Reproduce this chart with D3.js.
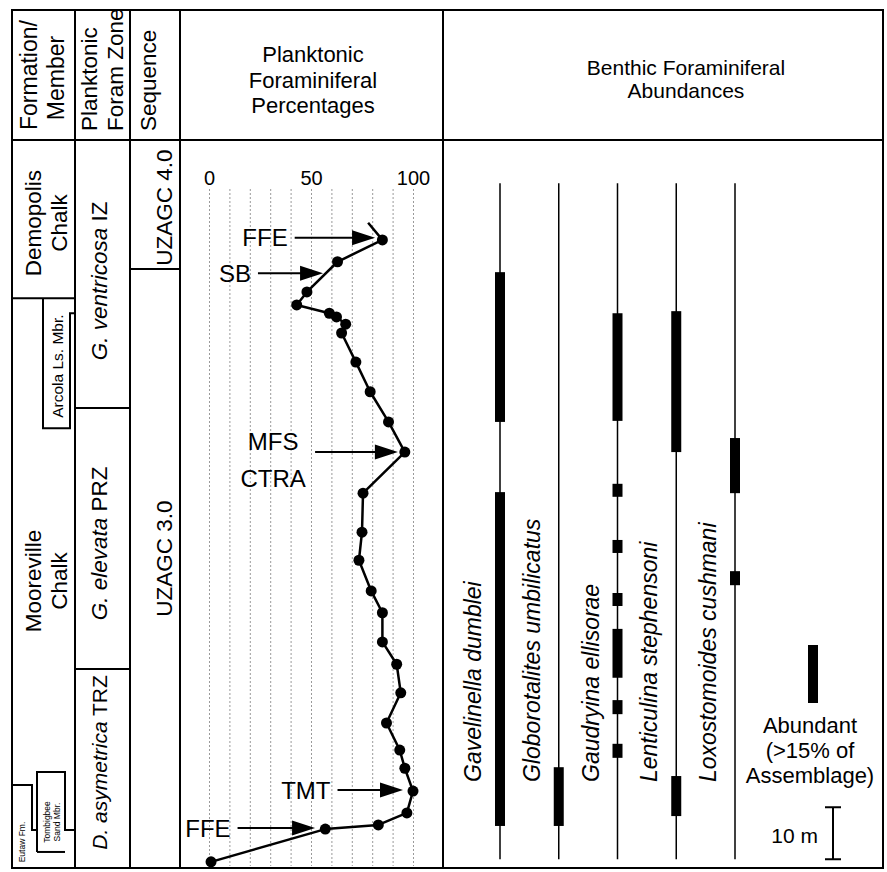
<!DOCTYPE html>
<html>
<head>
<meta charset="UTF-8">
<title>Planktonic and benthic foraminifera</title>
<script src="https://cdn.jsdelivr.net/npm/d3@7"></script>
<style>
  body { margin: 0; background: #fff; }
  text { font-family: "Liberation Sans", Arial, Helvetica, sans-serif; fill: #000; }
</style>
</head>
<body>
<script>
// stratigraphic height in metres above the base of the section
var depthM = [123.7, 120.4, 116.2, 110.4, 107.9, 106.3, 105.6, 104.2, 102.5, 96.9, 91.2, 85.4, 79.6,
              71.7, 64.2, 58.8, 52.9, 48.7, 43.1, 38.8, 33.3, 27.5, 22.3, 18.8, 14.4, 10.2, 7.9, 7.1, 0.8];
var planktonicPct = [78, 85, 63, 48, 43, 59, 62.5, 67, 65, 72, 79, 88, 96,
                     75.5, 75, 73.5, 79.5, 85, 85, 92, 94, 87, 93.5, 96, 100, 97, 83, 57, 1];
var pctTicks = [0, 50, 100];

// arrows on the planktonic curve
var annoLabels = ["FFE", "SB", "MFS", "TMT", "FFE"];
var annoSub = ["", "", "CTRA", "", ""];
var annoDepth = [120.8, 114.0, 79.6, 14.6, 7.3];
var annoFrom = [42, 24, 52, 63, 14];
var annoTo = [81.4, 55.9, 92.6, 95.1, 52];

// benthic taxa and their abundant intervals (m)
var species = ["Gavelinella dumblei", "Globorotalites umbilicatus", "Gaudryina ellisorae",
               "Lenticulina stephensoni", "Loxostomoides cushmani"];
var abundant = [
  [[85.4, 114.2], [7.7, 71.9]],
  [[7.7, 19.0]],
  [[85.6, 106.3], [71.0, 73.5], [60.2, 62.7], [50.0, 52.5], [36.2, 45.6], [29.2, 31.9], [20.8, 23.5]],
  [[79.6, 106.7], [9.6, 17.3]],
  [[71.7, 82.3], [54.0, 56.7]]
];
var rangeM = [1.3, 131.3];

// units
var formations = [["Demopolis", "Chalk"], ["Mooreville", "Chalk"]];
var formationBase = 109.2;
var arcolaRange = [84.2, 109.2], arcolaStep = 106.3;
var eutawTop = 15.6, eutawStep = 6.9, tombigbeeRange = [2.7, 18.1];
var zoneNames = ["G. ventricosa", "G. elevata", "D. asymetrica"];
var zoneTypes = ["IZ", "PRZ", "TRZ"];
var zoneBounds = [88.1, 37.9];
var sequences = ["UZAGC 4.0", "UZAGC 3.0"];
var sequenceBound = 114.8;

var W = 887, H = 872;
var L = 12, T = 10, R = 883, B = 868, headB = 140;
var cols = [L, 75, 130, 180, 443, R];

var svg = d3.select("body").append("svg")
  .attr("width", W).attr("height", H);

var y = d3.scaleLinear().domain([0, 130]).range([866, 190]);
var x = d3.scaleLinear().domain([0, 100]).range([209, 413]);

function vtext(px, py, str, size, anchor) {
  return svg.append("text")
    .attr("transform", "translate(" + px + "," + py + ") rotate(-90)")
    .attr("text-anchor", anchor || "middle")
    .style("font-size", size + "px")
    .text(str);
}

// ---- frame ----
svg.append("rect").attr("x", L).attr("y", T).attr("width", R - L).attr("height", B - T)
  .attr("fill", "none").attr("stroke", "#000").attr("stroke-width", 2);
svg.append("line").attr("x1", L).attr("x2", R).attr("y1", headB).attr("y2", headB)
  .attr("stroke", "#000").attr("stroke-width", 2);
cols.slice(1, 5).forEach(function (cx) {
  svg.append("line").attr("x1", cx).attr("x2", cx).attr("y1", T).attr("y2", B)
    .attr("stroke", "#000").attr("stroke-width", 2);
});

// ---- headers ----
vtext(37, 75, "Formation/", 23);
vtext(64, 78, "Member", 23);
vtext(97, 131, "Planktonic", 22.5, "start");
vtext(123, 131, "Foram Zone", 22.5, "start");
vtext(156, 131, "Sequence", 22.5, "start");
["Planktonic", "Foraminiferal", "Percentages"].forEach(function (s, i) {
  svg.append("text").attr("x", 313).attr("y", 62 + i * 25.5).attr("text-anchor", "middle")
    .style("font-size", "22px").text(s);
});
["Benthic Foraminiferal", "Abundances"].forEach(function (s, i) {
  svg.append("text").attr("x", 686).attr("y", 75 + i * 22.5).attr("text-anchor", "middle")
    .style("font-size", "21px").text(s);
});

var unitLine = { stroke: "#000", "stroke-width": 2, fill: "none" };
function path(d) {
  var p = svg.append("path").attr("d", d);
  for (var k in unitLine) p.attr(k, unitLine[k]);
}

// ---- formation column ----
var fb = y(formationBase);
path("M" + L + "," + fb + "H" + cols[1]);
path("M43," + y(arcolaRange[1]) + "V" + y(arcolaRange[0]) + "H70V" + y(arcolaStep) + "H" + cols[1]);
path("M" + L + "," + y(eutawTop) + "H32V" + y(eutawStep) + "H37");
path("M37," + y(tombigbeeRange[0]) + "V" + y(tombigbeeRange[1]) + "H65V" + y(eutawStep) + "H" + cols[1]);
path("M37," + y(tombigbeeRange[0]) + "H65");

var fMid = [(headB + fb) / 2 + 4, (fb + B) / 2 - 2];
formations.forEach(function (f, i) {
  vtext(41, fMid[i], f[0], 22.5);
  vtext(67, fMid[i], f[1], 22.5);
});
vtext(63, (y(arcolaRange[1]) + y(arcolaRange[0])) / 2 + 3, "Arcola Ls. Mbr.", 15.5);
vtext(25, 842, "Eutaw Fm.", 8.5);
vtext(50, 822, "Tombigbee", 8.5);
vtext(60, 822, "Sand Mbr.", 8.5);

// ---- zone column ----
zoneBounds.forEach(function (b) {
  path("M" + cols[1] + "," + y(b) + "H" + cols[2]);
});
var zEdges = [headB].concat(zoneBounds.map(y)).concat([B]);
var zShift = [7, 5, -6];
var zSize = [22.5, 22.5, 21];
zoneNames.forEach(function (z, i) {
  var t = svg.append("text")
    .attr("transform", "translate(107," + ((zEdges[i] + zEdges[i + 1]) / 2 + zShift[i]) + ") rotate(-90)")
    .attr("text-anchor", "middle").style("font-size", zSize[i] + "px");
  t.append("tspan").style("font-style", "italic").text(z);
  t.append("tspan").text(" " + zoneTypes[i]);
});

// ---- sequence column ----
var sb = y(sequenceBound);
path("M" + cols[2] + "," + sb + "H" + cols[3]);
vtext(172, (headB + sb) / 2 + 3, sequences[0], 22.5);
vtext(172, (sb + B) / 2 - 10, sequences[1], 22.5);

// ---- planktonic percentages ----
var grid = svg.append("g").attr("transform", "translate(0,189)")
  .call(d3.axisTop(x).tickValues(d3.range(0, 101, 10)).tickSize(-(866 - 189)).tickFormat(""));
grid.select(".domain").remove();
grid.selectAll("line").attr("stroke", "#9a9a9a").attr("stroke-width", 1).attr("stroke-dasharray", "2,2");

var ax = svg.append("g").attr("transform", "translate(0,185)")
  .call(d3.axisTop(x).tickValues(pctTicks).tickSize(0).tickPadding(0));
ax.select(".domain").remove();
ax.selectAll("text").style("font-size", "20px").attr("fill", "#000")
  .style("font-family", "'Liberation Sans', Arial, sans-serif");

var pts = depthM.map(function (d, i) { return [planktonicPct[i], d]; });
svg.append("path").datum(pts)
  .attr("d", d3.line().x(function (d) { return x(d[0]); }).y(function (d) { return y(d[1]); }))
  .attr("fill", "none").attr("stroke", "#000").attr("stroke-width", 2.5).attr("stroke-linejoin", "round");
svg.selectAll("circle.pt").data(pts.slice(1)).enter().append("circle")
  .attr("class", "pt")
  .attr("cx", function (d) { return x(d[0]); })
  .attr("cy", function (d) { return y(d[1]); })
  .attr("r", 5.5).attr("fill", "#000");

annoLabels.forEach(function (lab, i) {
  var ay = y(annoDepth[i]), x0 = x(annoFrom[i]), x1 = x(annoTo[i]), head = 23;
  svg.append("line").attr("x1", x0).attr("x2", x1 - head + 2).attr("y1", ay).attr("y2", ay)
    .attr("stroke", "#000").attr("stroke-width", 2);
  svg.append("path").attr("d", "M" + x1 + "," + ay + "L" + (x1 - head) + "," + (ay - 7.5) + "L" + (x1 - head) + "," + (ay + 7.5) + "Z")
    .attr("fill", "#000");
  if (annoSub[i]) {
    svg.append("text").attr("x", x0 - 42).attr("y", ay - 2).attr("text-anchor", "middle")
      .style("font-size", "24px").text(lab);
    svg.append("text").attr("x", x0 - 42).attr("y", ay + 35).attr("text-anchor", "middle")
      .style("font-size", "24px").text(annoSub[i]);
  } else {
    svg.append("text").attr("x", x0 - 7).attr("y", ay + 8.5).attr("text-anchor", "end")
      .style("font-size", "24px").text(lab);
  }
});

// ---- benthic abundances ----
var sx = d3.scalePoint().domain(species).range([500, 735]);
species.forEach(function (s, i) {
  var cx = sx(s);
  svg.append("line").attr("x1", cx).attr("x2", cx).attr("y1", y(rangeM[1])).attr("y2", y(rangeM[0]))
    .attr("stroke", "#000").attr("stroke-width", 1.5);
  abundant[i].forEach(function (r) {
    svg.append("rect").attr("x", cx - 5).attr("width", 10)
      .attr("y", y(r[1])).attr("height", y(r[0]) - y(r[1])).attr("fill", "#000");
  });
  svg.append("text")
    .attr("transform", "translate(" + (cx - 19) + ",782) rotate(-90)")
    .style("font-size", "23px").style("font-style", "italic").text(s);
});

// legend
svg.append("rect").attr("x", 808).attr("y", 645).attr("width", 10).attr("height", 58).attr("fill", "#000");
["Abundant", "(>15% of", "Assemblage)"].forEach(function (s, i) {
  svg.append("text").attr("x", 810).attr("y", 733 + i * 25).attr("text-anchor", "middle")
    .style("font-size", "22px").text(s);
});
var sTop = y(rangeM[0] + 10), sBot = y(rangeM[0]);
svg.append("path").attr("d", "M825," + sTop + "H841M833," + sTop + "V" + sBot + "M825," + sBot + "H841")
  .attr("fill", "none").attr("stroke", "#000").attr("stroke-width", 2);
svg.append("text").attr("x", 818).attr("y", 843).attr("text-anchor", "end")
  .style("font-size", "21px").text("10 m");
</script>
</body>
</html>
